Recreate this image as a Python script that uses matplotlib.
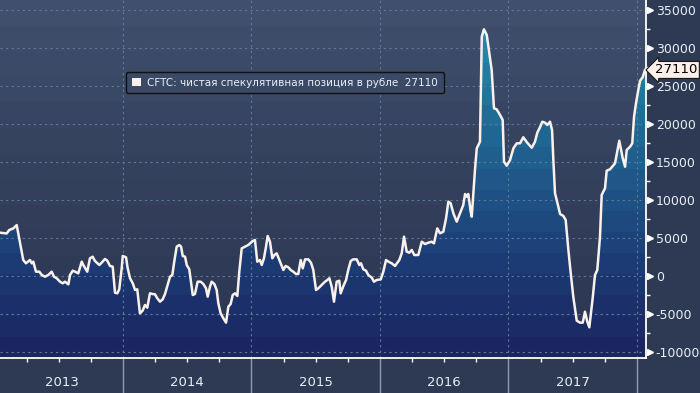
import numpy as np
import matplotlib
matplotlib.use("Agg")
import matplotlib.pyplot as plt
from matplotlib.colors import LinearSegmentedColormap
from matplotlib.patches import Patch
from matplotlib.transforms import blended_transform_factory, offset_copy

# ── Data (decimal year, net speculative position in contracts) ───────────────
dates = [
    2013.043, 2013.095, 2013.115, 2013.147, 2013.173, 2013.185, 2013.204, 2013.224,
    2013.245, 2013.276, 2013.290, 2013.302, 2013.323, 2013.349, 2013.368, 2013.393,
    2013.419, 2013.445, 2013.463, 2013.484, 2013.510, 2013.531, 2013.549, 2013.575,
    2013.588, 2013.609, 2013.627, 2013.652, 2013.679, 2013.691, 2013.722, 2013.743,
    2013.764, 2013.782, 2013.816, 2013.834, 2013.860, 2013.878, 2013.899, 2013.920,
    2013.938, 2013.956, 2013.971, 2013.990, 2013.998, 2014.024, 2014.035,
    2014.055, 2014.076, 2014.094, 2014.111, 2014.132, 2014.153, 2014.171, 2014.189,
    2014.210, 2014.231, 2014.249, 2014.267, 2014.288, 2014.309, 2014.327, 2014.345,
    2014.366, 2014.384, 2014.399, 2014.418, 2014.438, 2014.452, 2014.465, 2014.483,
    2014.496, 2014.516, 2014.527, 2014.543, 2014.560, 2014.581, 2014.605, 2014.625,
    2014.646, 2014.659, 2014.677, 2014.690, 2014.711, 2014.729, 2014.742, 2014.760,
    2014.781, 2014.802, 2014.820, 2014.838, 2014.854, 2014.872, 2014.890, 2014.905,
    2014.924, 2014.950, 2014.975, 2015.010, 2015.027, 2015.045, 2015.066, 2015.080,
    2015.097, 2015.113, 2015.126, 2015.144, 2015.162, 2015.178, 2015.196, 2015.217,
    2015.235, 2015.248, 2015.266, 2015.287, 2015.305, 2015.325, 2015.346, 2015.364,
    2015.383, 2015.399, 2015.417, 2015.442, 2015.463, 2015.481, 2015.502, 2015.520,
    2015.546, 2015.572, 2015.590, 2015.606, 2015.624, 2015.642, 2015.663, 2015.683,
    2015.694, 2015.715, 2015.736, 2015.753, 2015.772, 2015.792, 2015.819, 2015.839,
    2015.852, 2015.870, 2015.891, 2015.909, 2015.936, 2015.953, 2015.974, 2016.006,
    2016.026, 2016.047, 2016.065, 2016.091, 2016.117, 2016.150, 2016.169, 2016.187,
    2016.208, 2016.228, 2016.247, 2016.267, 2016.298, 2016.325, 2016.350, 2016.376,
    2016.402, 2016.420, 2016.446, 2016.467, 2016.493, 2016.514, 2016.532, 2016.550,
    2016.571, 2016.597, 2016.623, 2016.648, 2016.662, 2016.675, 2016.687, 2016.706,
    2016.714, 2016.739, 2016.753, 2016.778, 2016.792, 2016.809, 2016.831, 2016.851,
    2016.869, 2016.887, 2016.908, 2016.934, 2016.955, 2016.965, 2016.986, 2017.012,
    2017.038, 2017.064, 2017.090, 2017.115, 2017.146, 2017.181, 2017.206, 2017.224,
    2017.245, 2017.263, 2017.284, 2017.302, 2017.323, 2017.339, 2017.349, 2017.362,
    2017.388, 2017.401, 2017.427, 2017.445, 2017.466, 2017.479, 2017.504, 2017.531,
    2017.557, 2017.578, 2017.595, 2017.613, 2017.629, 2017.655, 2017.673, 2017.691,
    2017.712, 2017.725, 2017.751, 2017.764, 2017.790, 2017.829, 2017.862, 2017.889,
    2017.907, 2017.920, 2017.946, 2017.963, 2017.977, 2017.992, 2018.010, 2018.024,
    2018.044, 2018.062,
]
values = [
    5700, 5600, 6050, 6270, 6700, 5600, 3860, 2100,
    1670, 2100, 1670, 1890, 570, 570, 130, -90,
    130, 570, -90, -300, -750, -960, -750, -1100,
    130, 700, 570, 350, 1890, 1450, 570, 2330,
    2540, 1970, 1450, 1750, 2240, 2010, 1320, 1230,
    -2200, -2280, -1750, 1010, 2630, 2460, 1150,
    -300, -960, -1840, -1750, -4910, -4560, -3820, -4170,
    -2280, -2370, -2410, -2930, -3380, -3070, -2370, -1320,
    -90, 130, 1890, 3860, 4080, 3860, 2630, 2540,
    1450, 880, -530, -2500, -2370, -750, -750, -1050,
    -1620, -2720, -1400, -750, -1050, -1840, -3590, -4910,
    -5570, -6140, -4040, -3680, -2500, -2280, -2630, 570,
    3640, 3860, 4080, 4600, 4740, 1890, 2100, 1450,
    2330, 3860, 5260, 4510, 2330, 2760, 2980, 2100,
    1320, 790, 1320, 1140, 790, 570, 260, 260,
    2100, 1010, 2190, 2190, 1750, 790, -1840, -1620,
    -1180, -750, -530, -300, -1400, -3380, -750, -620,
    -2280, -1320, -530, 790, 1970, 2190, 2190, 1450,
    1670, 880, 700, 130, -220, -750, -530, -440,
    570, 2100, 1890, 1670, 1320, 2100, 2980, 5170,
    3200, 3070, 3420, 2760, 2760, 4510, 4210, 4380,
    4510, 4300, 6270, 5620, 5830, 7590, 9780, 9560,
    8250, 7150, 8250, 9340, 10790, 10440, 10790, 8460,
    7800, 13950, 16800, 17670, 31490, 32460, 31710, 29300,
    27110, 22070, 21930, 21190, 20530, 15040, 14510, 15260,
    16800, 17460, 17460, 18250, 17540, 16880, 17670, 18860,
    19570, 20300, 20170, 19870, 20300, 19210, 15260, 10880,
    9120, 8160, 7900, 7370, 3420, 1230, -2720, -5880,
    -6140, -6140, -4700, -6010, -6750, -2930, 130, 790,
    5170, 10660, 11540, 13860, 14040, 14830, 17800, 15480,
    14380, 16580, 17010, 17460, 20960, 22720, 24470, 25700,
    26150, 27110,
]
last_value = 27110
series_label = "CFTC: чистая спекулятивная позиция в рубле  27110"
year_labels = [2013, 2014, 2015, 2016, 2017]
year_bounds = [2014, 2015, 2016, 2017, 2018]
y_ticks = [-10000, -5000, 0, 5000, 10000, 15000, 20000, 25000, 30000, 35000]

# ── Style ────────────────────────────────────────────────────────────────────
BG_FIG    = "#2e3a54"
LINE_COL  = "#fbf1ec"
GRID_COL  = "#5b7b99"
TEXT_COL  = "#e8eef5"
X0, X1 = 2013.043, 2018.07
Y0, Y1 = -10790, 36316

fig = plt.figure(figsize=(7, 3.93), dpi=100, facecolor=BG_FIG)
ax = fig.add_axes([0, 35 / 393, 646 / 700, 358 / 393])
ax.set_xlim(X0, X1)
ax.set_ylim(Y0, Y1)

# banded background
bg_cmap = LinearSegmentedColormap.from_list("bg", ["#2c3752", "#34405c", "#3f4f6c"])
ax.imshow(np.linspace(0, 1, 14).reshape(-1, 1), cmap=bg_cmap, origin="lower",
          extent=[X0, X1, Y0, Y1], aspect="auto", interpolation="nearest", zorder=0)

# banded area fill clipped under the line
fill_cmap = LinearSegmentedColormap.from_list("fill", [
    (0.00, "#1b2660"), (0.20, "#1c3670"), (0.35, "#1e467c"),
    (0.50, "#1f5888"), (0.70, "#216e98"), (0.85, "#2580a6"), (1.00, "#2b92b2")])
poly = ax.fill_between(dates, values, Y0, facecolor="none", edgecolor="none")
im = ax.imshow(np.linspace(0, 1, 17).reshape(-1, 1), cmap=fill_cmap, origin="lower",
               extent=[X0, X1, Y0, Y1], aspect="auto", interpolation="nearest", zorder=1)
im.set_clip_path(poly.get_paths()[0], ax.transData)

ax.plot(dates, values, color=LINE_COL, lw=1.8, zorder=4, solid_joinstyle="round")

# grid
for yv in y_ticks:
    ax.axhline(yv, color=GRID_COL, lw=0.8, ls=(0, (2, 3)), zorder=2)
for xv in year_bounds:
    ax.axvline(xv, color=GRID_COL, lw=0.8, ls=(0, (2, 3)), zorder=2)

# spines
for s in ("top", "left"):
    ax.spines[s].set_visible(False)
for s in ("right", "bottom"):
    ax.spines[s].set_color("white")
    ax.spines[s].set_linewidth(1.3)
    ax.spines[s].set_zorder(5)

# x axis: year dividers down to the figure edge, quarter minor ticks
ax.set_xticks(year_bounds)
ax.set_xticklabels([])
ax.set_xticks([y + q for y in range(2013, 2018) for q in (0.25, 0.5, 0.75)
               if X0 < y + q < X1], minor=True)
ax.tick_params(axis="x", which="major", length=26, width=1, color="#8f9bb0", direction="out")
ax.tick_params(axis="x", which="minor", length=3, width=1, color="white", direction="out")
tr = blended_transform_factory(ax.transData, ax.transAxes)
for yr in year_labels:
    mid = (max(yr, X0) + min(yr + 1, X1)) / 2
    ax.text(mid, -25 / 358, str(yr), transform=tr, ha="center", va="center",
            color=TEXT_COL, fontsize=9.5)

# y axis on the right
ax.yaxis.tick_right()
ax.set_yticks(y_ticks)
ax.set_yticklabels([str(v) for v in y_ticks])
ax.set_yticks([v + 2500 for v in y_ticks[:-1]], minor=True)
ax.tick_params(axis="y", which="major", length=0, pad=7, labelsize=9, labelcolor=TEXT_COL)
ax.tick_params(axis="y", which="minor", length=3, width=1, color="white", direction="out")
ty = blended_transform_factory(ax.transAxes, ax.transData)
ax.plot([1.0] * len(y_ticks), y_ticks, transform=offset_copy(ty, fig, x=4, units="dots"),
        marker=">", ms=4.5, ls="none", color="white", clip_on=False, zorder=6)

# last-value tag
ax.text(1.0, last_value, str(last_value), transform=offset_copy(ty, fig, x=9, units="dots"),
        ha="left", va="center", fontsize=9.5, color="black", clip_on=False, zorder=7,
        bbox=dict(boxstyle="larrow,pad=0.15", fc="#fdf0ea", ec="#1a1a1a", lw=0.8))

# legend
leg = ax.legend(handles=[Patch(fc="#fdf0ea", ec="none")], labels=[series_label],
                loc="upper left", bbox_to_anchor=(126 / 646, 1 - 72 / 358),
                fontsize=7.5, frameon=True, fancybox=True, handlelength=0.9,
                handleheight=0.9, handletextpad=0.6, borderpad=0.55, borderaxespad=0)
leg.get_frame().set_facecolor("#3a4966")
leg.get_frame().set_edgecolor("#111111")
leg.get_frame().set_alpha(1)
for t in leg.get_texts():
    t.set_color(TEXT_COL)
leg.set_zorder(8)

fig.savefig("out.png", dpi=100, facecolor=BG_FIG)
